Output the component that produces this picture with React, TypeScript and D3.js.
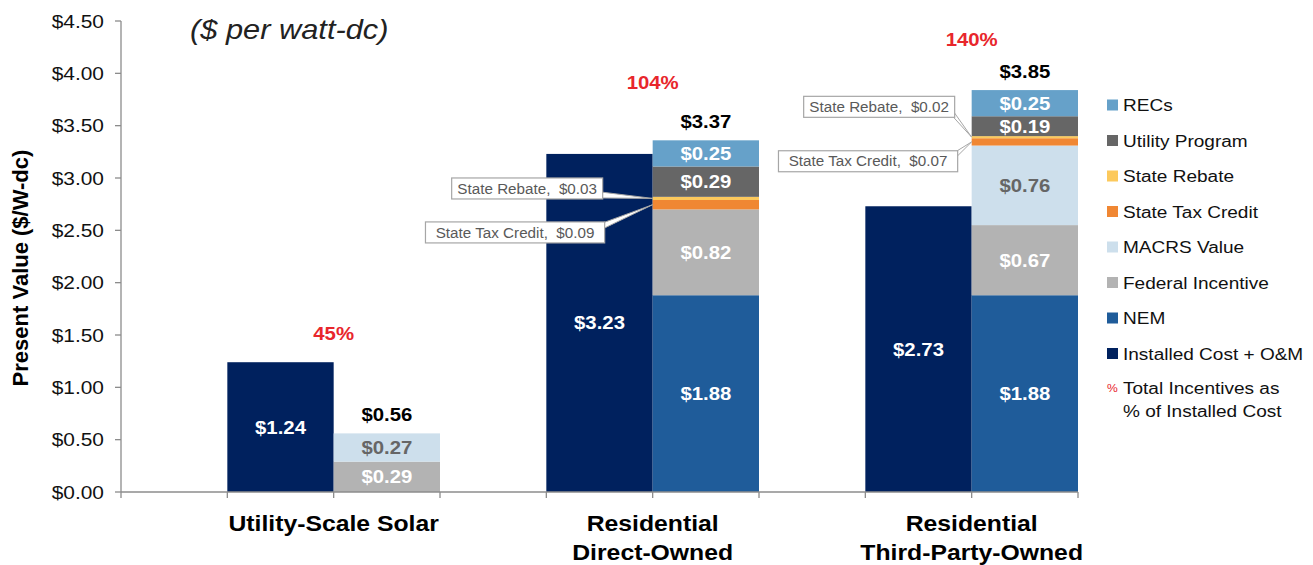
import React from "react";
import * as d3 from "d3";

// ---------- data ----------
const groups = ["Utility-Scale Solar", "Residential\nDirect-Owned", "Residential\nThird-Party-Owned"];
const installedCost = [1.24, 3.23, 2.73];
const seriesNames = ["NEM", "Federal Incentive", "MACRS Value", "State Tax Credit", "State Rebate", "Utility Program", "RECs"];
const nem = [0, 1.88, 1.88];
const federal = [0.29, 0.82, 0.67];
const macrs = [0.27, 0, 0.76];
const stateTaxCredit = [0, 0.09, 0.07];
const stateRebate = [0, 0.03, 0.02];
const utilityProgram = [0, 0.29, 0.19];
const recs = [0, 0.25, 0.25];
const totals = [0.56, 3.37, 3.85];
const pctLabels = ["45%", "104%", "140%"];
const pctLabelY = [1.51, 3.91, 4.32];
const yTicks = [0, 0.5, 1, 1.5, 2, 2.5, 3, 3.5, 4, 4.5];
// callouts: group index, series, label, box centre (value units), box right offset from bar (px)
const callouts = [
  { g: 1, s: "State Rebate", text: "State Rebate,  $0.03", yv: 2.9, dx: -50 },
  { g: 1, s: "State Tax Credit", text: "State Tax Credit,  $0.09", yv: 2.48, dx: -48 },
  { g: 2, s: "State Rebate", text: "State Rebate,  $0.02", yv: 3.68, dx: -17 },
  { g: 2, s: "State Tax Credit", text: "State Tax Credit,  $0.07", yv: 3.16, dx: -14 },
];

const seriesValues: Record<string, number[]> = {
  "NEM": nem,
  "Federal Incentive": federal,
  "MACRS Value": macrs,
  "State Tax Credit": stateTaxCredit,
  "State Rebate": stateRebate,
  "Utility Program": utilityProgram,
  "RECs": recs,
};
const colors: Record<string, string> = {
  "RECs": "#66A1C9",
  "Utility Program": "#666666",
  "State Rebate": "#FCC95C",
  "State Tax Credit": "#F08733",
  "MACRS Value": "#CDDFEC",
  "Federal Incentive": "#B3B3B3",
  "NEM": "#1F5C9A",
  "Installed Cost + O&M": "#00215E",
};
const labelColor: Record<string, string> = { "MACRS Value": "#666666" };
const unlabeled = new Set(["State Tax Credit", "State Rebate"]);
const legendOrder = ["RECs", "Utility Program", "State Rebate", "State Tax Credit", "MACRS Value", "Federal Incentive", "NEM", "Installed Cost + O&M"];

const FONT = "'Liberation Sans', Arial, sans-serif";
const SX = 1.1;

function T(props: any) {
  const { x, y, children, size = 16, weight = "normal", fill = "#000", anchor = "start", italic = false, sx = SX, rotate = 0 } = props;
  const tr = `translate(${x},${y})${rotate ? ` rotate(${rotate})` : ""} scale(${sx},1)`;
  return (
    <text transform={tr} fontSize={size} fontWeight={weight} fill={fill} textAnchor={anchor}
      fontStyle={italic ? "italic" : "normal"} fontFamily={FONT} dy="0.35em" style={{ whiteSpace: "pre" }}>
      {children}
    </text>
  );
}

export default function App() {
  const W = 1313, H = 565;
  const slots = d3.range(9).map(String);
  const x = d3.scaleBand<string>().domain(slots).range([121, 1078]).padding(0);
  const y = d3.scaleLinear().domain([0, 4.5]).range([492, 21]);
  const bw = x.bandwidth();
  const costSlot = (g: number) => String(g * 3 + 1);
  const incSlot = (g: number) => String(g * 3 + 2);

  const stack = d3.stack<number>().keys(seriesNames).value((i, k) => seriesValues[k][i]);
  const stacked = stack(d3.range(groups.length));
  const segTop = (s: string, g: number) => {
    const layer = stacked.find((l) => l.key === s)!;
    return layer[g];
  };

  const marks: any[] = [];
  groups.forEach((_, g) => {
    const cx = x(costSlot(g))!;
    marks.push(<rect key={`c${g}`} x={cx} y={y(installedCost[g])} width={bw} height={y(0) - y(installedCost[g])} fill={colors["Installed Cost + O&M"]} />);
    marks.push(<T key={`cl${g}`} x={cx + bw / 2} y={(y(0) + y(installedCost[g])) / 2} size={18.5} weight="bold" fill="#fff" anchor="middle">{`$${installedCost[g].toFixed(2)}`}</T>);
    const ix = x(incSlot(g))!;
    stacked.forEach((layer) => {
      const [a, b] = layer[g];
      if (b - a <= 0) return;
      marks.push(<rect key={`s${layer.key}${g}`} x={ix} y={y(b)} width={bw} height={y(a) - y(b)} fill={colors[layer.key]} />);
      if (!unlabeled.has(layer.key)) {
        marks.push(<T key={`sl${layer.key}${g}`} x={ix + bw / 2} y={(y(a) + y(b)) / 2} size={18.5} weight="bold" fill={labelColor[layer.key] || "#fff"} anchor="middle">{`$${(b - a).toFixed(2)}`}</T>);
      }
    });
    const top = d3.max(stacked, (l) => l[g][1])!;
    marks.push(<T key={`t${g}`} x={ix + bw / 2} y={y(top) - 19} size={18.5} weight="bold" fill="#000" anchor="middle">{`$${totals[g].toFixed(2)}`}</T>);
    marks.push(<T key={`p${g}`} x={ix} y={y(pctLabelY[g])} size={18.5} weight="bold" fill="#E8262C" anchor="middle">{pctLabels[g]}</T>);
  });

  // callouts
  const calloutEls = callouts.map((c, i) => {
    const [a, b] = segTop(c.s, c.g);
    const tx = x(incSlot(c.g))!;
    const ty = (y(a) + y(b)) / 2;
    const size = 14.5;
    const tw = c.text.length * 7.05;
    const right = tx + c.dx;
    const left = right - tw - 10;
    const cy = y(c.yv);
    const top = cy - 10.5, bot = cy + 10.5;
    const by = Math.max(top + 4, Math.min(bot - 4, ty));
    return (
      <g key={`co${i}`}>
        <polygon points={`${right - 2},${by - 3} ${tx},${ty} ${right - 2},${by + 3}`} fill="#fff" stroke="#A6A6A6" strokeWidth={1} />
        <rect x={left} y={top} width={right - left} height={bot - top} fill="#fff" stroke="#A6A6A6" strokeWidth={1.2} />
        <T x={(left + right) / 2} y={cy} size={size} fill="#595959" anchor="middle" sx={1.05}>{c.text}</T>
      </g>
    );
  });

  const axisColor = "#8C8C8C";
  return (
    <svg width={W} height={H} style={{ position: "absolute", left: 0, top: 0, background: "#fff" }}>
      {marks}
      {calloutEls}
      {/* y axis */}
      <line x1={121} x2={121} y1={y(4.5)} y2={y(0)} stroke={axisColor} strokeWidth={1.3} />
      {yTicks.map((t) => (
        <g key={`yt${t}`}>
          <line x1={115} x2={121} y1={y(t)} y2={y(t)} stroke={axisColor} strokeWidth={1.3} />
          <T x={104} y={y(t)} size={19} anchor="end" fill="#111">{`$${t.toFixed(2)}`}</T>
        </g>
      ))}
      {/* x axis */}
      <line x1={121} x2={1078} y1={y(0)} y2={y(0)} stroke={axisColor} strokeWidth={1.3} />
      {slots.concat(["9"]).map((s, i) => {
        const px = i < 9 ? x(s)! : 1078;
        return <line key={`xt${i}`} x1={px} x2={px} y1={y(0)} y2={y(0) + 6} stroke={axisColor} strokeWidth={1.3} />;
      })}
      {groups.map((g, i) => g.split("\n").map((ln, j) => (
        <T key={`gl${i}${j}`} x={x(incSlot(i))!} y={523 + j * 29} size={22.5} weight="bold" anchor="middle">{ln}</T>
      )))}
      {/* titles */}
      <T x={20} y={268} size={22} weight="bold" anchor="middle" rotate={-90} sx={1}>Present Value ($/W-dc)</T>
      <T x={190} y={29} size={27.5} italic fill="#222" sx={1.12}>($ per watt-dc)</T>
      {/* legend */}
      {legendOrder.map((k, i) => (
        <g key={`lg${k}`}>
          <rect x={1107} y={105 + i * 35.5 - 5.5} width={11} height={11} fill={colors[k]} />
          <T x={1123} y={105 + i * 35.5} size={17.3} fill="#111">{k}</T>
        </g>
      ))}
      <T x={1107} y={388} size={11} fill="#E8262C">%</T>
      <T x={1123} y={388} size={17.3} fill="#111">Total Incentives as</T>
      <T x={1123} y={411} size={17.3} fill="#111">% of Installed Cost</T>
    </svg>
  );
}
